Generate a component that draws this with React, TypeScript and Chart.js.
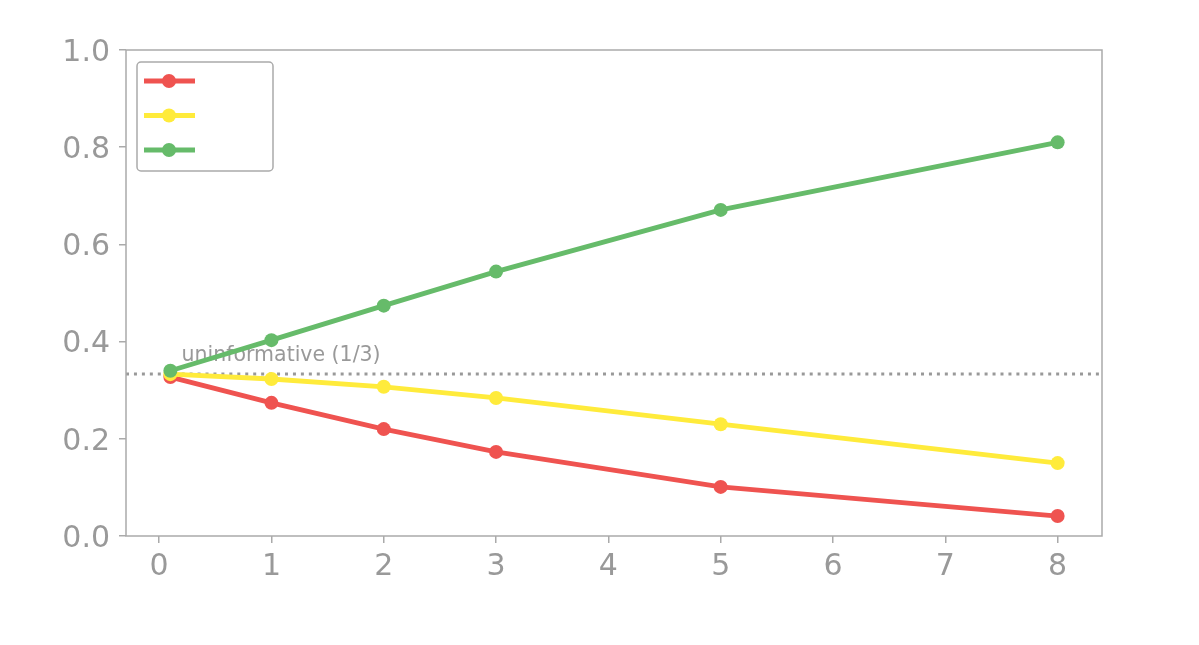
import React, { useEffect, useRef } from 'react';
import { Chart, registerables } from 'chart.js';

Chart.register(...registerables);

const xValues = [0.1, 1, 2, 3, 5, 8];
const redValues = [0.327, 0.274, 0.22, 0.173, 0.101, 0.041];
const yellowValues = [0.333, 0.323, 0.307, 0.284, 0.23, 0.15];
const greenValues = [0.34, 0.403, 0.474, 0.544, 0.671, 0.81];
const xTicks = [0, 1, 2, 3, 4, 5, 6, 7, 8];
const yTicks = [0, 0.2, 0.4, 0.6, 0.8, 1.0];
const baselineValue = 1 / 3;
const baselineLabel = 'uninformative (1/3)';
const baselineLabelAt = { x: 0.2, y: 0.36 };

const GREY = '#999999';
const SPINE = '#aaaaaa';
const FONT = '"DejaVu Sans", sans-serif';

const toPoints = (ys: number[]) => ys.map((y, i) => ({ x: xValues[i], y }));

// dotted reference line and its label, under the series
const baselinePlugin = {
    id: 'baseline',
    beforeDatasetsDraw(chart: any) {
        const { ctx, chartArea, scales } = chart;
        const y = scales.y.getPixelForValue(baselineValue);
        ctx.save();
        ctx.strokeStyle = GREY;
        ctx.lineWidth = 3;
        ctx.setLineDash([3, 4.95]);
        ctx.beginPath();
        ctx.moveTo(chartArea.left, y);
        ctx.lineTo(chartArea.right, y);
        ctx.stroke();
        ctx.setLineDash([]);
        ctx.fillStyle = GREY;
        ctx.font = `20.5px ${FONT}`;
        ctx.textBaseline = 'alphabetic';
        ctx.textAlign = 'left';
        ctx.fillText(
            baselineLabel,
            scales.x.getPixelForValue(baselineLabelAt.x),
            scales.y.getPixelForValue(baselineLabelAt.y)
        );
        ctx.restore();
    },
};

// full box around the plot, plus a legend without labels
const framePlugin = {
    id: 'frame',
    afterDraw(chart: any) {
        const { ctx, chartArea } = chart;
        ctx.save();
        ctx.strokeStyle = SPINE;
        ctx.lineWidth = 1.5;
        ctx.strokeRect(
            chartArea.left,
            chartArea.top,
            chartArea.right - chartArea.left,
            chartArea.bottom - chartArea.top
        );

        const bx = chartArea.left + 11;
        const by = chartArea.top + 12;
        ctx.fillStyle = 'rgba(255,255,255,0.85)';
        ctx.beginPath();
        ctx.roundRect(bx, by, 136, 109, 4);
        ctx.fill();
        ctx.stroke();

        chart.data.datasets.forEach((ds: any, i: number) => {
            const ry = by + 19 + i * 34.5;
            ctx.strokeStyle = ds.borderColor;
            ctx.lineWidth = ds.borderWidth;
            ctx.beginPath();
            ctx.moveTo(bx + 7, ry);
            ctx.lineTo(bx + 58, ry);
            ctx.stroke();
            ctx.fillStyle = ds.pointBackgroundColor;
            ctx.beginPath();
            ctx.arc(bx + 32, ry, 7, 0, Math.PI * 2);
            ctx.fill();
        });
        ctx.restore();
    },
};

const series = (data: number[], color: string, order: number) => ({
    data: toPoints(data),
    borderColor: color,
    backgroundColor: color,
    pointBackgroundColor: color,
    pointBorderColor: color,
    borderWidth: 4.8,
    pointRadius: 7,
    pointBorderWidth: 0,
    fill: false,
    order,
});

const App: React.FC = () => {
    const chartRef = useRef<HTMLCanvasElement>(null);

    useEffect(() => {
        if (!chartRef.current) return;
        const chart = new Chart(chartRef.current, {
            type: 'line',
            data: {
                datasets: [
                    series(redValues, '#EF5350', 2),
                    series(yellowValues, '#FFEB3B', 1),
                    series(greenValues, '#66BB6A', 0),
                ],
            },
            options: {
                animation: false,
                responsive: false,
                events: [],
                layout: { padding: { left: 0, top: 50, right: 97, bottom: 0 } },
                plugins: {
                    legend: { display: false },
                    tooltip: { enabled: false },
                },
                scales: {
                    x: {
                        type: 'linear',
                        min: -0.295,
                        max: 8.395,
                        afterBuildTicks: (scale: any) => {
                            scale.ticks = xTicks.map((v) => ({ value: v }));
                        },
                        afterFit: (scale: any) => {
                            scale.height = 109;
                        },
                        border: { display: false },
                        grid: {
                            drawOnChartArea: false,
                            drawTicks: true,
                            tickLength: 7,
                            color: SPINE,
                            lineWidth: 1.5,
                        },
                        ticks: {
                            color: GREY,
                            padding: 6,
                            maxRotation: 0,
                            font: { family: FONT, size: 30 },
                            callback: (v: any) => String(v),
                        },
                    },
                    y: {
                        type: 'linear',
                        min: 0,
                        max: 1,
                        afterBuildTicks: (scale: any) => {
                            scale.ticks = yTicks.map((v) => ({ value: v }));
                        },
                        afterFit: (scale: any) => {
                            scale.width = 126;
                        },
                        border: { display: false },
                        grid: {
                            drawOnChartArea: false,
                            drawTicks: true,
                            tickLength: 7,
                            color: SPINE,
                            lineWidth: 1.5,
                        },
                        ticks: {
                            color: GREY,
                            padding: 9,
                            labelOffset: 3,
                            font: { family: FONT, size: 30 },
                            callback: (v: any) => Number(v).toFixed(1),
                        },
                    },
                },
            },
            plugins: [baselinePlugin, framePlugin],
        });

        return () => {
            chart.destroy();
        };
    }, []);

    return (
        <div style={{ position: 'fixed', left: 0, top: 0, width: 1199, height: 645, background: '#fff' }}>
            <canvas ref={chartRef} width={1199} height={645} />
        </div>
    );
};

export default App;
